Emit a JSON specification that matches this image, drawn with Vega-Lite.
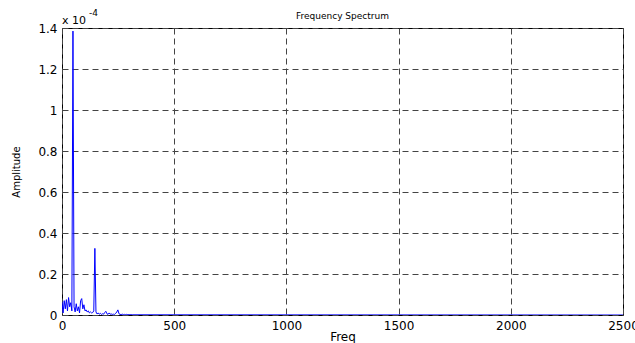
{
  "$schema": "https://vega.github.io/schema/vega-lite/v6.json",
  "width": 561,
  "height": 287,
  "autosize": {"type": "none"},
  "padding": {"left": 62, "top": 28, "right": 12, "bottom": 28},
  "background": "white",
  "config": {
    "view": {"stroke": "black", "strokeWidth": 1},
    "font": "DejaVu Sans",
    "axis": {
      "domain": false,
      "ticks": false,
      "gridColor": "#444444",
      "gridDash": [6, 4],
      "gridWidth": 1,
      "gridOpacity": 1,
      "labelFont": "DejaVu Sans",
      "labelFontSize": 12,
      "labelColor": "black",
      "titleFont": "DejaVu Sans",
      "titleColor": "black",
      "titleFontWeight": "normal"
    }
  },
  "title": {
    "text": "Frequency Spectrum",
    "fontSize": 9,
    "font": "DejaVu Sans",
    "fontWeight": "normal",
    "color": "black",
    "offset": 0,
    "dy": 12
  },
  "data": {
    "values": [
      {"f": 0, "amp": 0.065},
      {"f": 4.88, "amp": 0.01},
      {"f": 9.77, "amp": 0.07},
      {"f": 14.65, "amp": 0.03},
      {"f": 19.53, "amp": 0.075},
      {"f": 24.41, "amp": 0.02},
      {"f": 29.3, "amp": 0.085},
      {"f": 34.18, "amp": 0.04},
      {"f": 39.06, "amp": 0.06},
      {"f": 43.95, "amp": 0.02},
      {"f": 48.83, "amp": 1.385},
      {"f": 53.71, "amp": 0.04},
      {"f": 58.59, "amp": 0.015},
      {"f": 63.48, "amp": 0.055},
      {"f": 68.36, "amp": 0.02},
      {"f": 73.24, "amp": 0.04},
      {"f": 78.13, "amp": 0.01},
      {"f": 83.01, "amp": 0.07},
      {"f": 87.89, "amp": 0.08},
      {"f": 92.77, "amp": 0.03},
      {"f": 97.66, "amp": 0.05},
      {"f": 102.54, "amp": 0.02},
      {"f": 107.42, "amp": 0.025},
      {"f": 112.3, "amp": 0.015},
      {"f": 117.19, "amp": 0.02},
      {"f": 122.07, "amp": 0.01},
      {"f": 126.95, "amp": 0.015},
      {"f": 131.84, "amp": 0.01},
      {"f": 136.72, "amp": 0.012},
      {"f": 141.6, "amp": 0.02},
      {"f": 146.48, "amp": 0.325},
      {"f": 151.37, "amp": 0.015},
      {"f": 156.25, "amp": 0.005},
      {"f": 161.13, "amp": 0.01},
      {"f": 166.02, "amp": 0.004},
      {"f": 170.9, "amp": 0.008},
      {"f": 175.78, "amp": 0.003},
      {"f": 180.66, "amp": 0.006},
      {"f": 185.55, "amp": 0.004},
      {"f": 190.43, "amp": 0.012},
      {"f": 195.31, "amp": 0.018},
      {"f": 200.2, "amp": 0.006},
      {"f": 205.08, "amp": 0.003},
      {"f": 209.96, "amp": 0.01},
      {"f": 214.84, "amp": 0.004},
      {"f": 219.73, "amp": 0.005},
      {"f": 224.61, "amp": 0.003},
      {"f": 229.49, "amp": 0.004},
      {"f": 234.38, "amp": 0.003},
      {"f": 239.26, "amp": 0.008},
      {"f": 244.14, "amp": 0.015},
      {"f": 249.02, "amp": 0.025},
      {"f": 253.91, "amp": 0.006},
      {"f": 258.79, "amp": 0.003},
      {"f": 263.67, "amp": 0.002},
      {"f": 268.55, "amp": 0.004},
      {"f": 273.44, "amp": 0.002},
      {"f": 278.32, "amp": 0.003},
      {"f": 283.2, "amp": 0.002},
      {"f": 288.09, "amp": 0.003},
      {"f": 292.97, "amp": 0.002},
      {"f": 297.85, "amp": 0.002},
      {"f": 302.73, "amp": 0.001},
      {"f": 307.62, "amp": 0.0015},
      {"f": 312.5, "amp": 0.001},
      {"f": 2500, "amp": 0}
    ]
  },
  "layer": [
    {
      "mark": {"type": "line", "color": "#0000ff", "strokeWidth": 1, "clip": true},
      "encoding": {
        "x": {
          "field": "f", "type": "quantitative",
          "scale": {"domain": [0, 2500], "nice": false},
          "axis": {"values": [0, 500, 1000, 1500, 2000, 2500], "format": "d", "grid": true, "title": "Freq", "titleFontSize": 12, "titlePadding": 0, "labelPadding": 5, "labelFlush": false, "labelOverlap": false}
        },
        "y": {
          "field": "amp", "type": "quantitative",
          "scale": {"domain": [0, 1.4], "nice": false},
          "axis": {"values": [0, 0.2, 0.4, 0.6, 0.8, 1, 1.2, 1.4], "format": "~g", "grid": true, "title": "Amplitude", "titleFontSize": 10, "titlePadding": 16, "labelPadding": 5, "labelFlush": false, "labelOverlap": false}
        }
      }
    },
    {
      "data": {"values": [{"label": "x 10"}]},
      "mark": {"type": "text", "align": "left", "baseline": "alphabetic", "fontSize": 11, "font": "DejaVu Sans", "color": "black", "dy": -4},
      "encoding": {
        "x": {"datum": 0, "type": "quantitative"},
        "y": {"datum": 1.4, "type": "quantitative"},
        "text": {"field": "label"}
      }
    },
    {
      "data": {"values": [{"label": "-4"}]},
      "mark": {"type": "text", "align": "left", "baseline": "alphabetic", "fontSize": 9, "font": "DejaVu Sans", "color": "black", "dx": 27, "dy": -12},
      "encoding": {
        "x": {"datum": 0, "type": "quantitative"},
        "y": {"datum": 1.4, "type": "quantitative"},
        "text": {"field": "label"}
      }
    }
  ]
}
